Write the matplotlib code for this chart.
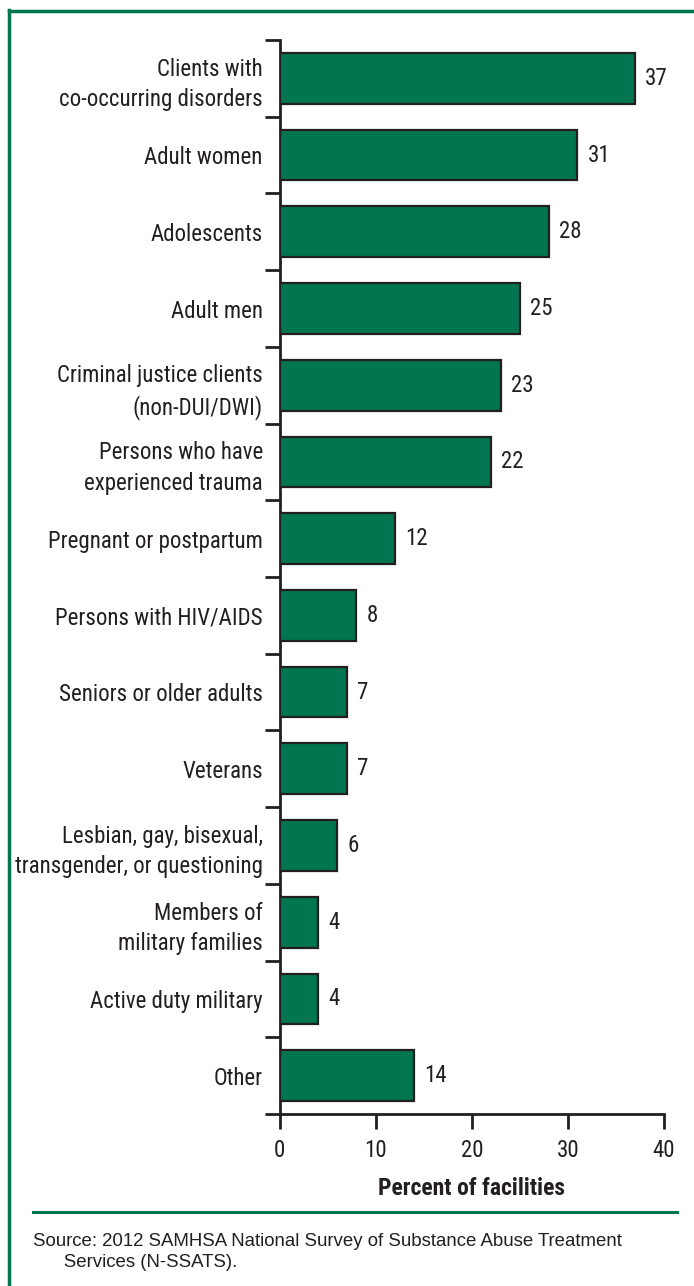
import matplotlib
matplotlib.use("Agg")
import matplotlib.pyplot as plt
from matplotlib.lines import Line2D

categories = [
    "Clients with\nco-occurring disorders",
    "Adult women",
    "Adolescents",
    "Adult men",
    "Criminal justice clients\n(non-DUI/DWI)",
    "Persons who have\nexperienced trauma",
    "Pregnant or postpartum",
    "Persons with HIV/AIDS",
    "Seniors or older adults",
    "Veterans",
    "Lesbian, gay, bisexual,\ntransgender, or questioning",
    "Members of\nmilitary families",
    "Active duty military",
    "Other",
]
values = [37, 31, 28, 25, 23, 22, 12, 8, 7, 7, 6, 4, 4, 14]
xticks = [0, 10, 20, 30, 40]
xlabel = "Percent of facilities"
source = "Source: 2012 SAMHSA National Survey of Substance Abuse Treatment\n      Services (N-SSATS)."

GREEN = "#00754f"
DARK = "#231f20"
NARROW = ["Liberation Sans Narrow", "Roboto Condensed", "DejaVu Sans"]

W, H = 694, 1286
fig = plt.figure(figsize=(W / 100, H / 100), dpi=100)
ax = fig.add_axes([279.5 / W, 1 - 1114 / H, (664 - 279.5) / W, (1114 - 40) / H])

n = len(categories)
ypos = list(range(n))
ax.barh(ypos, values, height=0.66, color=GREEN, edgecolor=DARK, linewidth=1.6, zorder=3)
ax.set_ylim(n - 0.5, -0.5)
ax.set_xlim(0, 40)

for y, v in zip(ypos, values):
    ax.annotate(str(v), (v, y), xytext=(10, 0), textcoords="offset pixels",
                ha="left", va="center", fontsize=16.5, family=NARROW, color=DARK)

# category labels
ax.set_yticks([i for i in range(n)], minor=False)
ax.set_yticklabels(categories, fontsize=16.5, family=NARROW, color=DARK, ha="right",
                   linespacing=1.4)
ax.tick_params(axis="y", which="major", length=0, pad=12)
ax.set_yticks([i - 0.5 for i in range(n + 1)], minor=True)
ax.tick_params(axis="y", which="minor", length=11, width=2, color=DARK, direction="out")

ax.set_xticks(xticks)
ax.set_xticklabels([str(t) for t in xticks], fontsize=16.5, family=NARROW, color=DARK)
ax.tick_params(axis="x", length=11, width=2, color=DARK, direction="out", pad=7)

for s in ["top", "right"]:
    ax.spines[s].set_visible(False)
for s in ["left", "bottom"]:
    ax.spines[s].set_linewidth(2)
    ax.spines[s].set_color(DARK)

ax.set_xlabel(xlabel, fontsize=17, family=NARROW, fontweight="bold", color=DARK, labelpad=11)

# frame lines
fig.add_artist(Line2D([9 / W, 9 / W], [0, 1 - 10 / H], transform=fig.transFigure, color=GREEN, linewidth=2.5))
fig.add_artist(Line2D([9 / W, 1], [1 - 11 / H, 1 - 11 / H], transform=fig.transFigure, color=GREEN, linewidth=2.5))
fig.add_artist(Line2D([33 / W, 677 / W], [1 - 1212 / H, 1 - 1212 / H], transform=fig.transFigure, color=GREEN, linewidth=2.2))

fig.text(33 / W, 1 - 1233 / H, source, fontsize=13.4, family=["Liberation Sans", "DejaVu Sans"],
         color=DARK, ha="left", va="top", linespacing=1.3)

fig.savefig("out.png", dpi=100)
